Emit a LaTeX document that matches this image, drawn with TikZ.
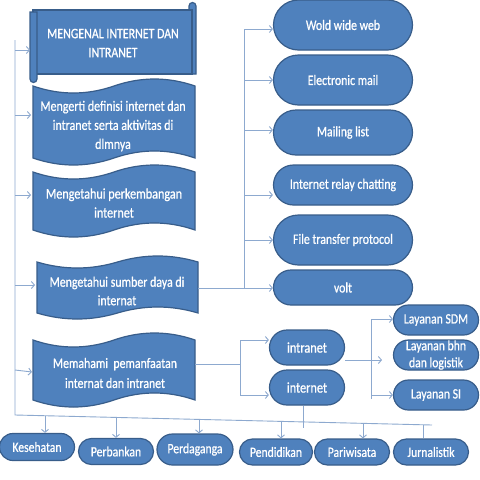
\documentclass[tikz,border=0pt]{standalone}
\usepackage{fontspec}
\setmainfont{Carlito}[FakeStretch=0.82,FakeBold=0.7]
\usetikzlibrary{arrows.meta,shapes.misc}
\definecolor{boxfill}{HTML}{4F81BD}
\definecolor{boxline}{HTML}{385D8A}
\definecolor{conn}{HTML}{8DA9CF}
\newcommand\tapeshape[5]{%
  \pgfmathsetmacro\tpw{#2-#1}%
  \pgfmathsetmacro\tpa{4*#5/3}%
  \filldraw[shapebox] (#1,#3) .. controls ({#1+\tpw/6},{#3+\tpa}) and ({#1+\tpw/3},{#3+\tpa}) .. ({#1+\tpw/2},#3)
    .. controls ({#1+2*\tpw/3},{#3-\tpa}) and ({#1+5*\tpw/6},{#3-\tpa}) .. (#2,#3) -- (#2,#4)
    .. controls ({#1+5*\tpw/6},{#4-\tpa}) and ({#1+2*\tpw/3},{#4-\tpa}) .. ({#1+\tpw/2},#4)
    .. controls ({#1+\tpw/3},{#4+\tpa}) and ({#1+\tpw/6},{#4+\tpa}) .. (#1,#4) -- cycle;}
\newcommand\fsz[2]{\fontsize{#1}{#2}\selectfont}
\begin{document}
\begin{tikzpicture}[x=1pt,y=-1pt,
  shapebox/.style={fill=boxfill,draw=boxline,line width=1.2pt},
  boxtext/.style={text=white,align=center,inner sep=0pt},
  pill/.style={shapebox,rounded rectangle,text=white,align=center,inner sep=0pt},
  rpill/.style={pill,minimum width=139pt,font=\fsz{14.4}{17}},
  bpill/.style={pill,minimum width=75pt,minimum height=26pt,font=\fsz{14.2}{17}},
  mpill/.style={pill,minimum width=75pt,minimum height=35pt,font=\fsz{15}{18}},
  lpill/.style={pill,minimum width=85pt,minimum height=30pt,font=\fsz{14.3}{17}},
  conline/.style={draw=conn,line width=0.9pt},
  arr/.style={conline,-{Straight Barb[length=3pt,width=7pt]}}]
\useasboundingbox (0,0) rectangle (480,480);
\fill[white] (0,0) rectangle (480,480);

% ---- scroll (banner) ----
\filldraw[shapebox] (189,74) -- (189,6) arc (180:360:3.5) -- (196,74) -- cycle;
\filldraw[shapebox] (33,10) rectangle (192,74);
\filldraw[shapebox] (30,12) -- (30,79) arc (180:0:3.5) -- (37,12) -- cycle;
\node[boxtext,font=\fsz{14.5}{19}] (b1) at (113,43) {MENGENAL INTERNET DAN\\INTRANET};

% ---- tape boxes ----
\tapeshape{33}{195}{86}{158}{7}
\node[boxtext,font=\fsz{14.6}{19}] (b2) at (113,126) {Mengerti definisi internet dan\\intranet serta aktivitas di\\dlmnya};
\tapeshape{33}{195}{172}{230}{7}
\node[boxtext,font=\fsz{14.8}{19}] (b3) at (114,203) {Mengetahui perkembangan\\internet};
\tapeshape{37}{198}{262}{313}{6}
\node[boxtext,font=\fsz{14.5}{18.5}] (b4) at (117,291) {Mengetahui sumber daya di\\internat};
\tapeshape{33}{195}{340}{400}{7}
\node[boxtext,font=\fsz{14.4}{20}] (b5) at (115,373) {Memahami\ \ pemanfaatan\\internat dan intranet};

% ---- right pills ----
\node[rpill,minimum height=50pt] (www) at (343,25) {Wold wide web};
\node[rpill,minimum height=50pt] (mail) at (343,80) {Electronic mail};
\node[rpill,minimum height=45pt] (ml) at (343,132.5) {Mailing list};
\node[rpill,minimum height=40pt] (irc) at (343,185) {Internet relay chatting};
\node[rpill,minimum height=50pt] (ftp) at (343,240) {File transfer protocol};
\node[rpill,minimum height=35pt] (volt) at (343,287.5) {volt};

% ---- middle pills ----
\node[mpill] (intra) at (307,347.5) {intranet};
\node[mpill] (inter) at (307,387.5) {internet};

% ---- layanan ----
\node[lpill] (sdm) at (436,320) {Layanan SDM};
\node[lpill,font=\fsz{14.3}{17}] (bhn) at (436,355) {Layanan bhn\\dan logistik};
\node[lpill] (si) at (436,395) {Layanan SI};

% ---- bottom pills ----
\node[bpill,minimum height=27pt] (kes) at (37,447) {Kesehatan};
\node[bpill] (bank) at (116,451.5) {Perbankan};
\node[bpill,minimum height=31pt,minimum width=76pt] (dag) at (195,449.5) {Perdaganga};
\node[bpill,minimum width=73pt] (pend) at (276,452) {Pendidikan};
\node[bpill] (pari) at (352,452) {Pariwisata};
\node[bpill] (jur) at (431,452) {Jurnalistik};

% ---- left bus ----
\coordinate (lt) at (15,40);
\coordinate (lb) at (15,415);
\coordinate (le) at (432,425);
\draw[conline] (lt) -- (lb) -- (le);
\coordinate (a1) at (15,50);   \coordinate (e1) at (30,50);
\coordinate (a2) at (15,115);  \coordinate (e2) at (31,115);
\coordinate (a3) at (15,195);  \coordinate (e3) at (31,195);
\coordinate (a4) at (15,285);  \coordinate (e4) at (35,285);
\coordinate (a5) at (15,370);  \coordinate (e5) at (32,372);
\draw[arr] (a1) -- (e1);
\draw[arr] (a2) -- (e2);
\draw[arr] (a3) -- (e3);
\draw[arr] (a4) -- (e4);
\draw[arr] (a5) -- (e5);

% ---- bottom drops ----
\coordinate (d1) at (45,415.7);
\coordinate (d2) at (116,417.4);
\coordinate (d3) at (199,419.4);
\coordinate (d4) at (281,421.4);
\coordinate (d5) at (363,423.3);
\coordinate (d6) at (423,424.8);
\draw[arr] (d1) -- (d1 |- kes.north);
\draw[arr] (d2) -- (d2 |- bank.north);
\draw[arr] (d3) -- (d3 |- dag.north);
\draw[arr] (d4) -- (d4 |- pend.north);
\draw[arr] (d5) -- (d5 |- pari.north);
\draw[conline] (d6) -- (d6 |- jur.north);
\coordinate (ib) at (303,428);
\draw[conline] (inter.south -| ib) -- (ib);

% ---- right bus ----
\coordinate (rt) at (244,29);
\coordinate (rb) at (244,288);
\draw[conline] (rt) -- (rb);
\coordinate (b4e) at (198,288);
\draw[conline] (b4e) -- (rb);
\draw[arr] (rt) -- (rt -| www.west);
\draw[arr] (244,80) -- (mail.west);
\draw[arr] (244,130) -- (244,130 -| ml.west);
\draw[arr] (244,195) -- (244,195 -| irc.west);
\draw[arr] (244,240) -- (ftp.west);
\draw[arr] (rb) -- (rb -| volt.west);

% ---- intranet / internet ----
\coordinate (b5e) at (195,364);
\coordinate (m1) at (240,364);
\coordinate (mt) at (240,340);
\coordinate (mb) at (240,395);
\draw[conline] (b5e) -- (m1);
\draw[conline] (mt) -- (mb);
\draw[arr] (mt) -- (mt -| intra.west);
\draw[arr] (mb) -- (mb -| inter.west);

% ---- layanan bus ----
\coordinate (i1) at (345,360);
\coordinate (i2) at (382,360);
\draw[arr] (i1) -- (i2);
\coordinate (st) at (371,319);
\coordinate (sb) at (371,399);
\draw[conline] (st) -- (sb);
\draw[arr] (st) -- (st -| sdm.west);
\draw[arr] (371,395) -- (si.west);
\end{tikzpicture}
\end{document}
